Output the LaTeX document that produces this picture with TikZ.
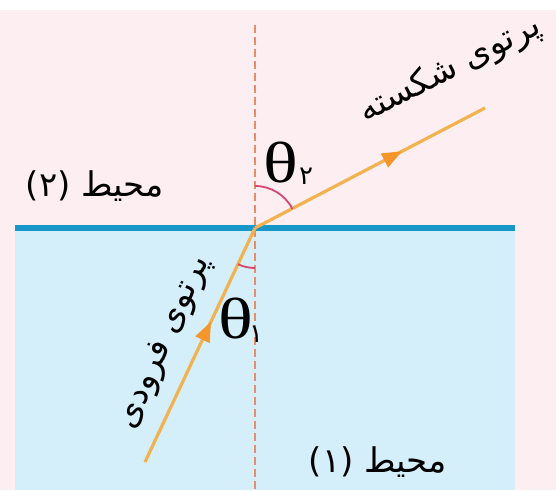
\documentclass[tikz,border=0pt]{standalone}
\usepackage{fontspec}
\setmainfont{Liberation Serif}
\newfontfamily\arabicfont[Script=Arabic]{DejaVu Sans}
\TeXXeTstate=1
\usetikzlibrary{decorations.markings,arrows.meta}
\definecolor{pinkbg}{RGB}{253,238,242}
\definecolor{bluebg}{RGB}{212,238,250}
\definecolor{surfc}{RGB}{25,150,200}
\definecolor{rayc}{RGB}{242,178,80}
\definecolor{arrowc}{RGB}{245,150,45}
\definecolor{arcc}{RGB}{215,70,110}
\definecolor{normc}{RGB}{235,140,105}
\begin{document}
\begin{tikzpicture}[x=1pt,y=-1pt,
  ray/.style={draw=rayc, line width=3.2pt, postaction={decorate}},
  arcline/.style={draw=arcc, line width=1.8pt},
  normline/.style={draw=normc, line width=1.5pt, dash pattern=on 8pt off 4pt},
  surfline/.style={draw=surfc, line width=5.5pt},
  fa/.style={font=\arabicfont\fontsize{34}{38}\selectfont, inner sep=0pt, text=black},
  sub/.style={font=\arabicfont\fontsize{26}{30}\selectfont, inner sep=0pt, text=black},
  th/.style={font=\fontsize{58}{60}\selectfont, inner sep=0pt, text=black, xscale=1.25}]
\useasboundingbox (0,0) rectangle (556,490);
\fill[white] (0,0) rectangle (556,490);
\fill[pinkbg] (0,10) rectangle (556,490);
\fill[bluebg] (15,228) rectangle (515,490);
\coordinate (O) at (255,228);
\coordinate (A) at (145,462);
\coordinate (B) at (485,108);
\coordinate (Nt) at (255,25);
\coordinate (Nb) at (255,490);
\coordinate (Sl) at (15,228);
\coordinate (Sr) at (515,228);
\draw[normline] (Nt) -- (Nb);
\draw[surfline] (Sl) -- (Sr);
\draw[ray, decoration={markings, mark=at position 0.6 with {\arrow[arrowc]{Triangle[length=20pt,width=15pt]}}}] (A) -- (O);
\draw[ray, decoration={markings, mark=at position 0.64 with {\arrow[arrowc]{Triangle[length=20pt,width=15pt]}}}] (O) -- (B);
\draw[arcline] (O) ++(0,-42) arc[start angle=-90, end angle=-27, radius=42];
\draw[arcline] (O) ++(0,40) arc[start angle=90, end angle=115.2, radius=40];
\node[th] (t2) at (281,163) {θ};
\node[sub] (t2s) at (306,176) {۲};
\node[th] (t1) at (236,318) {θ};
\node[sub] (t1s) at (256,334) {۱};
\node[fa, rotate=27] (rb) at (450,70) {\beginR پرتوی شکسته\endR};
\node[fa, rotate=66] (ri) at (165,343) {\beginR پرتوی فرودی\endR};
\node[fa] (m2) at (95,186) {(۲) \beginR محیط\endR};
\node[fa] (m1) at (378,462) {(۱) \beginR محیط\endR};
\end{tikzpicture}
\end{document}
